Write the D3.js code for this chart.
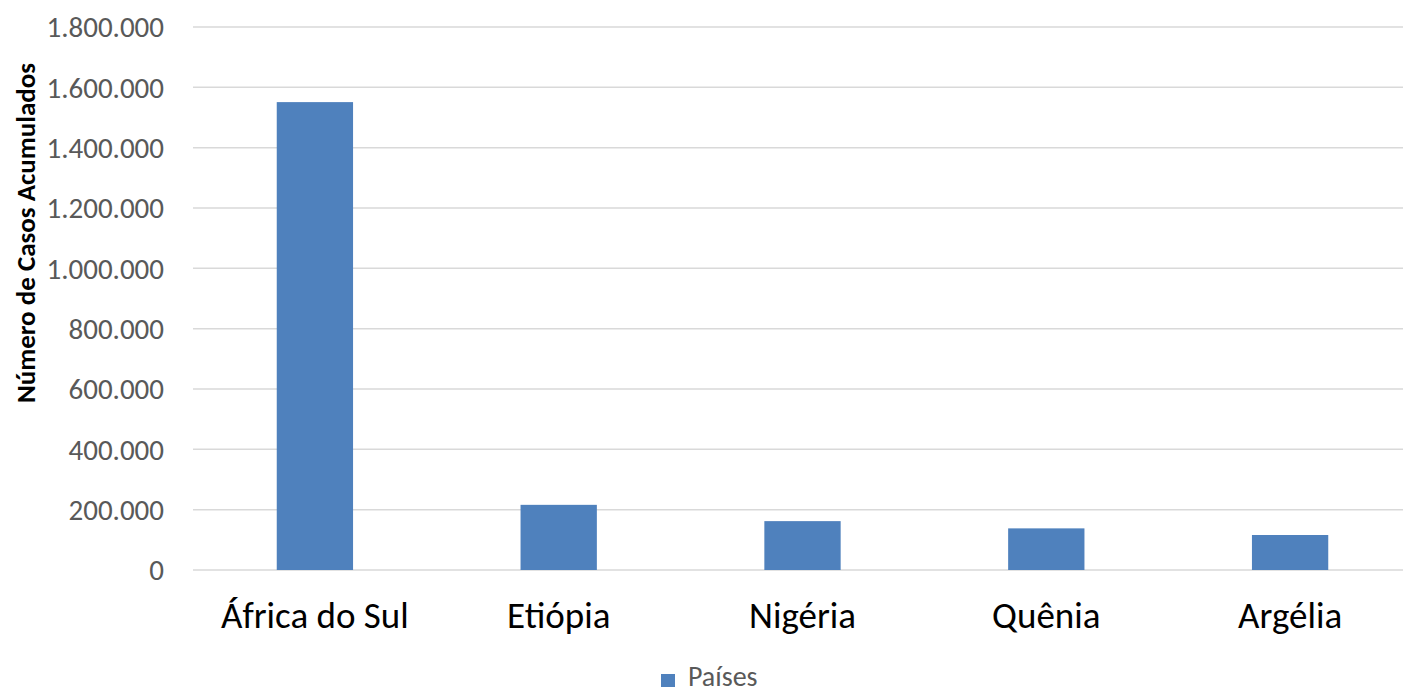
<!DOCTYPE html>
<html>
<head>
<meta charset="utf-8">
<script src="https://cdn.jsdelivr.net/npm/d3@7"></script>
<style>
  html, body { margin: 0; padding: 0; background: #fff; }
  svg { display: block; font-family: Calibri, Carlito, Lato, sans-serif; }
</style>
</head>
<body>
<div id="chart"></div>
<script>
const countries = ['África do Sul', 'Etiópia', 'Nigéria', 'Quênia', 'Argélia'];
const cases = [1551000, 216000, 162000, 138000, 116000];
const yTicks = [0, 200000, 400000, 600000, 800000, 1000000, 1200000, 1400000, 1600000, 1800000];
const seriesName = 'Países';
const yTitle = 'Número de Casos Acumulados';

const WIDTH = 1403;
const HEIGHT = 694;
const PLOT = { left: 193, right: 1412, top: 27, bottom: 570 };
const BAR_COLOR = '#4f81bd';
const GRID_COLOR = '#d9d9d9';
const TICK_COLOR = '#595959';
const FONT = 'Calibri, Carlito, Lato, sans-serif';

const fmtPt = (n) => d3.format(',')(n).replace(/,/g, '.');

const svg = d3.select('#chart')
  .append('svg')
  .attr('width', WIDTH)
  .attr('height', HEIGHT);

const x = d3.scaleBand()
  .domain(countries)
  .range([PLOT.left, PLOT.right])
  .paddingInner(0.687)
  .paddingOuter(0.3435);

const y = d3.scaleLinear()
  .domain([0, 1800000])
  .range([PLOT.bottom, PLOT.top]);

// gridlines
svg.append('g')
  .selectAll('line')
  .data(yTicks)
  .join('line')
  .attr('x1', PLOT.left)
  .attr('x2', PLOT.right)
  .attr('y1', (d) => y(d))
  .attr('y2', (d) => y(d))
  .attr('stroke', GRID_COLOR)
  .attr('stroke-width', 1.5);

// y axis labels
const yAxis = svg.append('g')
  .attr('transform', `translate(${PLOT.left - 29},0)`)
  .call(d3.axisLeft(y).tickValues(yTicks).tickSize(0).tickPadding(0).tickFormat(fmtPt));
yAxis.select('.domain').remove();
yAxis.selectAll('text')
  .attr('fill', TICK_COLOR)
  .attr('font-size', '29px')
  .attr('font-family', FONT)
  .attr('dy', '0.34em');

// bars
svg.append('g')
  .selectAll('rect')
  .data(countries)
  .join('rect')
  .attr('x', (d) => x(d))
  .attr('width', x.bandwidth())
  .attr('y', (d, i) => y(cases[i]))
  .attr('height', (d, i) => y(0) - y(cases[i]))
  .attr('fill', BAR_COLOR);

// x axis labels
const xAxis = svg.append('g')
  .attr('transform', `translate(0,${PLOT.bottom})`)
  .call(d3.axisBottom(x).tickSize(0));
xAxis.select('.domain').remove();
xAxis.selectAll('text')
  .attr('y', 58)
  .attr('dy', null)
  .attr('fill', '#000')
  .attr('font-size', '37px')
  .attr('font-family', FONT);

// y axis title
svg.append('text')
  .attr('transform', 'translate(35,233) rotate(-90)')
  .attr('text-anchor', 'middle')
  .attr('font-size', '27px')
  .attr('font-weight', 'bold')
  .attr('font-family', FONT)
  .attr('fill', '#000')
  .text(yTitle);

// legend
const legend = svg.append('g').attr('transform', 'translate(661,674)');
legend.append('rect')
  .attr('width', 14)
  .attr('height', 13)
  .attr('fill', BAR_COLOR);
legend.append('text')
  .attr('x', 27)
  .attr('y', 12)
  .attr('font-size', '28px')
  .attr('font-family', FONT)
  .attr('fill', TICK_COLOR)
  .text(seriesName);
</script>
</body>
</html>
